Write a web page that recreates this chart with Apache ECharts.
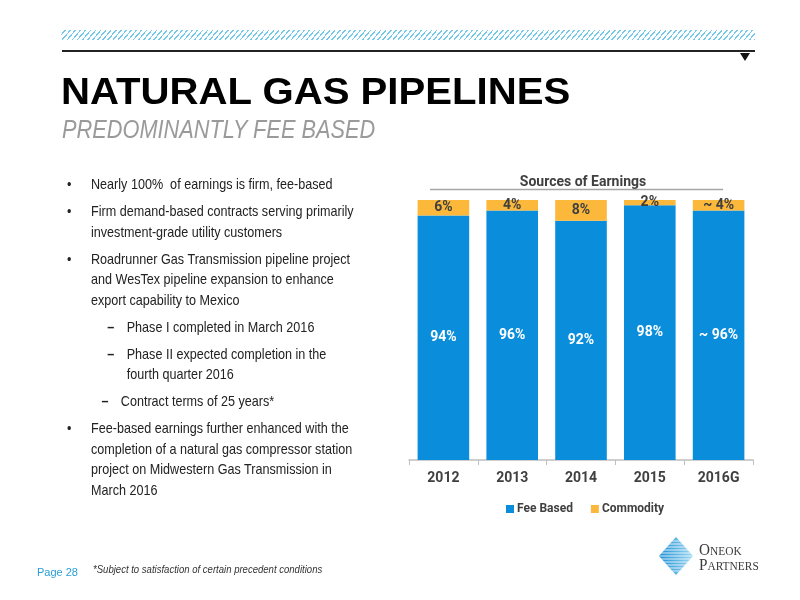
<!DOCTYPE html>
<html>
<head>
<meta charset="utf-8">
<script src="https://cdn.jsdelivr.net/npm/echarts@6/dist/echarts.min.js"></script>
<style>
  html, body { margin:0; padding:0; background:#fff; }
  #page { position:relative; width:800px; height:600px; overflow:hidden; font-family:"Liberation Sans", Arial, sans-serif; }
  #chart { position:absolute; left:0; top:0; width:800px; height:600px; }
  .abs { position:absolute; }
  #hatch { left:61px; top:30px; width:694px; height:10px;
    background: repeating-linear-gradient(130deg, #fff 0px, #fff 2.7px, #74c8ea 2.7px, #74c8ea 3.9px); }
  #rule { left:62px; top:50px; width:693px; height:2px; background:#222; }
  #tri { left:740px; top:53px; width:0; height:0; border-left:5px solid transparent; border-right:5px solid transparent; border-top:8px solid #111; }
  #title { left:61px; top:73px; font-size:37px; font-weight:bold; color:#000; white-space:nowrap; transform:scaleX(1.085); transform-origin:left top; line-height:37px; }
  #subtitle { left:62px; top:116px; font-style:italic; font-size:26px; color:#9a9a9a; white-space:nowrap; transform:scaleX(0.837); transform-origin:left top; line-height:26px; }
  #bullets { left:62px; top:174px; width:420px; font-size:15px; color:#222; line-height:20.6px; transform:scaleX(0.84); transform-origin:left top; white-space:nowrap; }
  .b { position:relative; padding-left:34.5px; margin-bottom:6.4px; }
  .b:before { content:"•"; position:absolute; left:6px; top:0; }
  .d { position:relative; padding-left:77px; margin-bottom:6.4px; }
  .d:before { content:"–"; position:absolute; left:54px; top:0; font-weight:bold; }
  .d2 { position:relative; padding-left:70px; margin-bottom:6.4px; }
  .d2:before { content:"–"; position:absolute; left:47px; top:0; font-weight:bold; }
  #pageno { left:37px; top:566px; font-size:11px; color:#2a9fd6; }
  #foot { left:93px; top:563px; font-style:italic; font-size:11.5px; color:#333; transform:scaleX(0.83); transform-origin:left top; white-space:nowrap; }
  #logo { left:659px; top:537px; }
  #logotext { left:699px; top:543px; font-family:"Liberation Serif", serif; color:#3a3a3a; line-height:13px; font-size:16px; transform:scaleX(0.95); transform-origin:left top; white-space:nowrap; }
  #logotext span { font-size:12px; }
</style>
</head>
<body>
<div id="page">
  <div id="chart"></div>
  <div class="abs" id="hatch"></div>
  <div class="abs" id="rule"></div>
  <div class="abs" id="tri"></div>
  <div class="abs" id="title">NATURAL GAS PIPELINES</div>
  <div class="abs" id="subtitle">PREDOMINANTLY FEE BASED</div>
  <div class="abs" id="bullets">
    <div class="b">Nearly 100%&nbsp; of earnings is firm, fee-based</div>
    <div class="b">Firm demand-based contracts serving primarily<br>investment-grade utility customers</div>
    <div class="b">Roadrunner Gas Transmission pipeline project<br>and WesTex pipeline expansion to enhance<br>export capability to Mexico</div>
    <div class="d">Phase I completed in March 2016</div>
    <div class="d">Phase II expected completion in the<br>fourth quarter 2016</div>
    <div class="d2">Contract terms of 25 years*</div>
    <div class="b">Fee-based earnings further enhanced with the<br>completion of a natural gas compressor station<br>project on Midwestern Gas Transmission in<br>March 2016</div>
  </div>
  <div class="abs" id="pageno">Page 28</div>
  <div class="abs" id="foot">*Subject to satisfaction of certain precedent conditions</div>
  <svg class="abs" id="logo" width="34" height="38" viewBox="0 0 34 38">
    <defs>
      <clipPath id="dia"><polygon points="17,0 34,19 17,38 0,19"/></clipPath>
      <linearGradient id="g" x1="0" x2="1" y1="0" y2="0">
        <stop offset="0" stop-color="#1b8fd6"/><stop offset="1" stop-color="#9fd8f2"/>
      </linearGradient>
    </defs>
    <g clip-path="url(#dia)">
      <rect x="0" y="0" width="34" height="38" fill="url(#g)"/>
      <g stroke="#fff" stroke-width="0.8">
        <line x1="0" y1="4" x2="34" y2="4"/><line x1="0" y1="7" x2="34" y2="7"/>
        <line x1="0" y1="10" x2="34" y2="10"/><line x1="0" y1="13" x2="34" y2="13"/>
        <line x1="0" y1="16" x2="34" y2="16"/><line x1="0" y1="19" x2="34" y2="19"/>
        <line x1="0" y1="22" x2="34" y2="22"/><line x1="0" y1="25" x2="34" y2="25"/>
        <line x1="0" y1="28" x2="34" y2="28"/><line x1="0" y1="31" x2="34" y2="31"/>
        <line x1="0" y1="34" x2="34" y2="34"/>
      </g>
    </g>
  </svg>
  <div class="abs" id="logotext">O<span>NEOK</span><br>P<span>ARTNERS</span></div>
</div>
<script>
const categories = ['2012', '2013', '2014', '2015', '2016G'];
const feeBased = [94, 96, 92, 98, 96];
const commodity = [6, 4, 8, 2, 4];
const labelPrefix = ['', '', '', '', '~ '];
const seriesNames = ['Fee Based', 'Commodity'];
const chartTitle = 'Sources of Earnings';

const chart = echarts.init(document.getElementById('chart'), null, { renderer: 'canvas' });
const labelFont = { fontFamily: 'Roboto, "Liberation Sans", sans-serif', fontWeight: 'bold', fontSize: 14 };
chart.setOption({
  animation: false,
  title: {
    text: chartTitle, left: 578, top: 170, textAlign: 'center',
    textStyle: { fontFamily: 'Roboto, "Liberation Sans", sans-serif', fontSize: 14, fontWeight: 'bold', color: '#404040' }
  },
  graphic: [{
    type: 'line', shape: { x1: 430, y1: 189.5, x2: 723, y2: 189.5 },
    style: { stroke: '#a6a6a6', lineWidth: 1.5 }
  }],
  legend: {
    data: seriesNames, left: 501, top: 498,
    itemWidth: 8, itemHeight: 8, itemGap: 18, icon: 'rect',
    textStyle: { fontFamily: 'Roboto, "Liberation Sans", sans-serif', fontWeight: 'bold', fontSize: 12, color: '#404040', padding: [0, 0, 0, -2] }
  },
  grid: { left: 409, right: 47, top: 200, bottom: 140, containLabel: false },
  xAxis: {
    type: 'category', data: categories,
    axisLine: { lineStyle: { color: '#bfbfbf', width: 1.5 } },
    axisTick: { show: true, length: 5, lineStyle: { color: '#bfbfbf' } },
    axisLabel: Object.assign({ color: '#404040', margin: 11 }, labelFont)
  },
  yAxis: { type: 'value', min: 0, max: 100, show: false, splitLine: { show: false } },
  series: [
    {
      name: seriesNames[0], type: 'bar', stack: 'total', data: feeBased, barCategoryGap: '25%',
      itemStyle: { color: '#0A8EDB' },
      label: Object.assign({ show: true, position: 'inside', color: '#ffffff',
        formatter: p => labelPrefix[p.dataIndex] + p.value + '%' }, labelFont)
    },
    {
      name: seriesNames[1], type: 'bar', stack: 'total', data: commodity,
      itemStyle: { color: '#FBB83B' },
      label: Object.assign({ show: true, position: 'inside', color: '#404040',
        formatter: p => labelPrefix[p.dataIndex] + p.value + '%' }, labelFont)
    }
  ]
});
</script>
</body>
</html>
